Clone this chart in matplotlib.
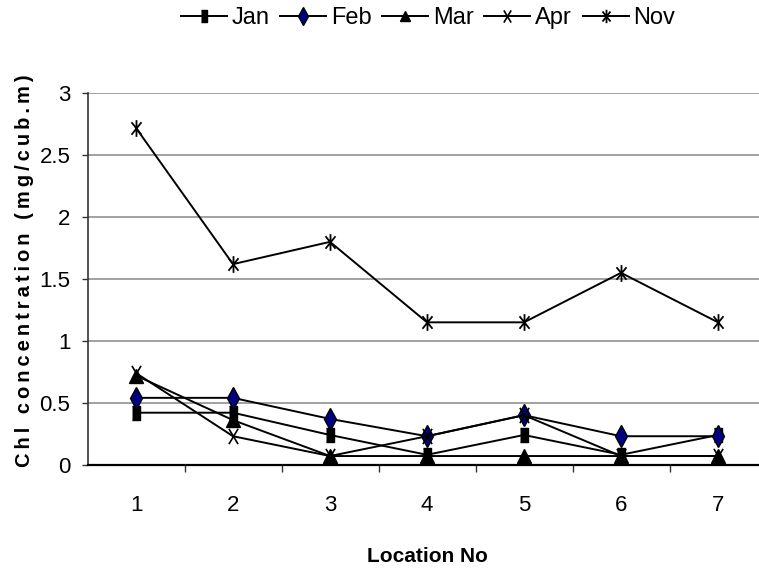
import matplotlib
matplotlib.use('Agg')
import matplotlib.pyplot as plt
from matplotlib.path import Path

# Data
locations = [1, 2, 3, 4, 5, 6, 7]
jan = [0.42, 0.42, 0.24, 0.08, 0.24, 0.08, 0.24]
feb = [0.54, 0.54, 0.37, 0.23, 0.40, 0.23, 0.23]
mar = [0.72, 0.36, 0.07, 0.07, 0.07, 0.07, 0.07]
apr = [0.74, 0.23, 0.07, 0.23, 0.40, 0.07, 0.07]
nov = [2.72, 1.62, 1.80, 1.15, 1.15, 1.55, 1.15]
y_ticks = [0, 0.5, 1, 1.5, 2, 2.5, 3]
y_tick_labels = ['0', '0.5', '1', '1.5', '2', '2.5', '3']

plt.rcParams['font.family'] = ['Liberation Sans', 'DejaVu Sans']

# markers in the reference are squeezed sideways, so build tall ones
M, L = Path.MOVETO, Path.LINETO
tall_square = [(-0.6, -1), (0.6, -1), (0.6, 1), (-0.6, 1)]
tall_x = Path([(-0.6, -1), (0.6, 1), (-0.6, 1), (0.6, -1)], [M, L, M, L])
tall_star = Path([(0, -1), (0, 1), (-0.6, -0.75), (0.6, 0.75), (-0.6, 0.75), (0.6, -0.75)],
                 [M, L, M, L, M, L])

fig = plt.figure(figsize=(7.59, 5.73), dpi=100)
ax = fig.add_axes([87.5 / 759, (573 - 464.7) / 573, 679 / 759, 371.4 / 573])

series = [
    ('Jan', jan, dict(marker=tall_square, markersize=10.5, markerfacecolor='black')),
    ('Feb', feb, dict(marker='d', markersize=11, markerfacecolor='#000080')),
    ('Mar', mar, dict(marker='^', markersize=9.5, markerfacecolor='black')),
    ('Apr', apr, dict(marker=tall_x, markersize=11, markeredgewidth=1.2)),
    ('Nov', nov, dict(marker=tall_star, markersize=12, markeredgewidth=1.3)),
]
for name, vals, style in series:
    ax.plot(locations, vals, color='black', linewidth=1.4,
            markeredgecolor='black', label=name, **style)

ax.set_xlim(0.5, 7.5)
ax.set_ylim(0, 3)
ax.set_yticks(y_ticks)
ax.set_yticklabels(y_tick_labels)
ax.set_xticks(locations)
ax.set_xticks([1.5, 2.5, 3.5, 4.5, 5.5, 6.5], minor=True)
ax.tick_params(axis='x', which='major', length=0, pad=22, labelsize=16)
ax.tick_params(axis='x', which='minor', length=5, width=1, color='#333333', direction='out')
ax.tick_params(axis='y', length=4.3, width=1, color='#333333', direction='out', pad=8, labelsize=16)

ax.yaxis.grid(True, color='#888888', linewidth=1.1)
ax.set_axisbelow(True)
for s in ['top', 'right']:
    ax.spines[s].set_visible(False)
ax.spines['left'].set_color('#333333')
ax.spines['left'].set_linewidth(1.2)
ax.spines['bottom'].set_color('black')
ax.spines['bottom'].set_linewidth(1.6)

ylabel = '\u2009'.join('Chl concentration (mg/cub.m)')
fig.text(25 / 759, 1 - 271 / 573, ylabel, rotation=90, ha='center', va='center',
         fontsize=14.5, fontweight='bold')
fig.text(427 / 759, 1 - 556 / 573, 'Location No', ha='center', va='center',
         fontsize=15, fontweight='bold')

fig.legend(loc='center', bbox_to_anchor=(428 / 759, 1 - 18 / 573), ncol=5,
           frameon=False, fontsize=17, handlelength=1.95, handletextpad=0.2,
           columnspacing=0.45, markerscale=0.8)

fig.savefig('out.png', dpi=100)
